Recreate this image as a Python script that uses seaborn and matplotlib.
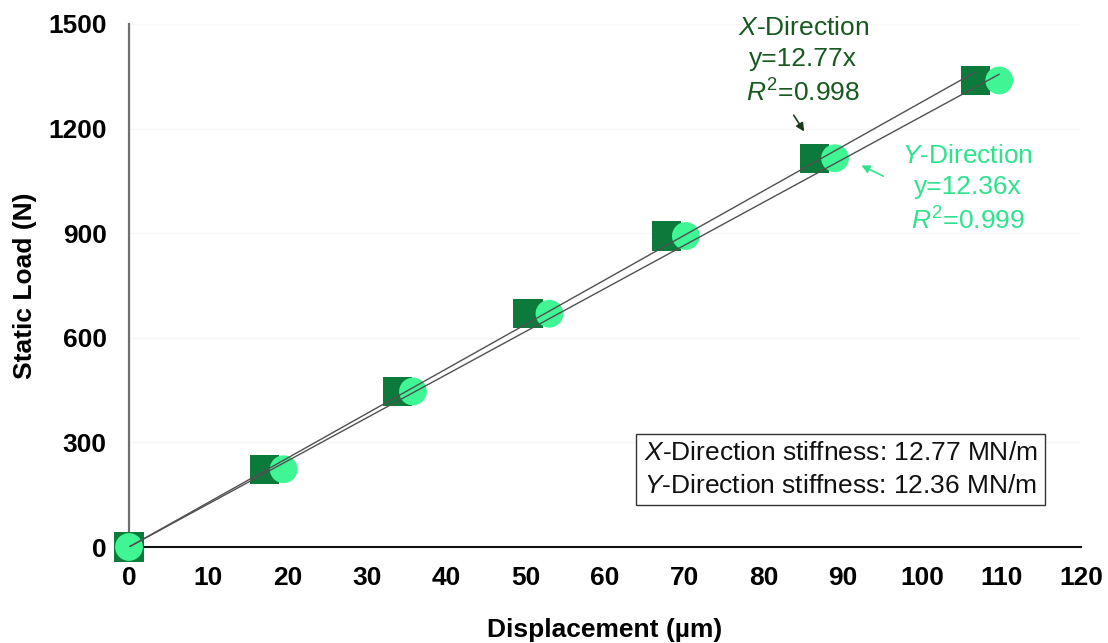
import numpy as np
import pandas as pd
import matplotlib
matplotlib.use("Agg")
import matplotlib.pyplot as plt
import seaborn as sns

# Measured static load vs. displacement in two directions
load_n = [0, 223, 446, 669, 892, 1115, 1338]
disp_x_um = [0, 17.1, 33.9, 50.3, 67.8, 86.4, 106.7]
disp_y_um = [0, 19.5, 35.8, 53.0, 70.2, 89.0, 109.7]

# Linear fits through the origin (N/um == MN/m)
slope_x = 12.77
slope_y = 12.36
r2_x = 0.998
r2_y = 0.999

x_ticks = list(range(0, 121, 10))
y_ticks = [0, 300, 600, 900, 1200, 1500]

col_x = "#0b7a3b"
col_y = "#3ff594"
txt_x = "#17591f"
txt_y = "#2fe38e"

sns.set_theme(style="white")
plt.rcParams["font.family"] = ["Liberation Sans", "DejaVu Sans"]
plt.rcParams["mathtext.fontset"] = "custom"
plt.rcParams["mathtext.rm"] = "Liberation Sans"
plt.rcParams["mathtext.it"] = "Liberation Sans:italic"

df = pd.DataFrame({
    "Displacement": disp_x_um + disp_y_um,
    "Load": load_n + load_n,
    "Direction": ["X"] * len(load_n) + ["Y"] * len(load_n),
})

fig = plt.figure(figsize=(11.08, 6.43), dpi=100)
ax = fig.add_axes([0.1164, 0.1493, 0.8592, 0.8134])

ax.yaxis.grid(True, color="#f7f7f7", lw=1)
ax.set_axisbelow(True)

sns.scatterplot(data=df, x="Displacement", y="Load", hue="Direction",
                style="Direction", markers={"X": "s", "Y": "o"},
                palette={"X": col_x, "Y": col_y},
                size="Direction", sizes={"X": 441, "Y": 400},
                linewidth=0, legend=False, ax=ax, clip_on=False, zorder=3)

# Fitted trend lines
fit = pd.DataFrame({
    "Displacement": [0, max(disp_x_um), 0, max(disp_y_um)],
    "Load": [0, slope_x * max(disp_x_um), 0, slope_y * max(disp_y_um)],
    "Fit": ["X", "X", "Y", "Y"],
})
sns.lineplot(data=fit, x="Displacement", y="Load", units="Fit", estimator=None,
             color="#505050", lw=1.0, ax=ax, zorder=4, legend=False)

ax.set_xlim(0, 120)
ax.set_ylim(0, 1500)
ax.set_xticks(x_ticks)
ax.set_yticks(y_ticks)
ax.tick_params(axis="both", length=0, labelsize=19, labelcolor="black")
ax.tick_params(axis="y", pad=16)
ax.tick_params(axis="x", pad=14)
for lab in ax.get_xticklabels() + ax.get_yticklabels():
    lab.set_fontweight("bold")

ax.set_xlabel("Displacement (µm)", fontsize=19, fontweight="bold",
              color="black", labelpad=20)
ax.set_ylabel("Static Load (N)", fontsize=19, fontweight="bold",
              color="black", labelpad=8)

for s in ["top", "right"]:
    ax.spines[s].set_visible(False)
ax.spines["left"].set_color("#6e6e6e")
ax.spines["left"].set_linewidth(1.6)
ax.spines["bottom"].set_color("#111111")
ax.spines["bottom"].set_linewidth(1.5)

# Fit annotations
ax.text(85.0, 1392, r"$\mathit{X}$-Direction" + "\n" + f"y={slope_x:.2f}x" + "\n"
        + r"$\mathit{R}^{\mathrm{2}}$" + f"={r2_x:.3f}",
        color=txt_x, fontsize=19, ha="center", va="center", linespacing=1.38)
ax.annotate("", xy=(85.3, 1185), xytext=(83.6, 1245),
            arrowprops=dict(arrowstyle="-|>", color="#1c3a1c", lw=1.2,
                            mutation_scale=12))

ax.text(105.7, 1025, r"$\mathit{Y}$-Direction" + "\n" + f"y={slope_y:.2f}x" + "\n"
        + r"$\mathit{R}^{\mathrm{2}}$" + f"={r2_y:.3f}",
        color=txt_y, fontsize=19, ha="center", va="center", linespacing=1.38)
ax.annotate("", xy=(92.0, 1098), xytext=(95.4, 1060),
            arrowprops=dict(arrowstyle="-|>", color=txt_y, lw=1.2,
                            mutation_scale=12))

ax.text(89.7, 222,
        r"$\mathit{X}$-Direction stiffness: " + f"{slope_x:.2f} MN/m" + "\n"
        + r"$\mathit{Y}$-Direction stiffness: " + f"{slope_y:.2f} MN/m",
        fontsize=19, color="#111111", ha="center", va="center", linespacing=1.45,
        bbox=dict(boxstyle="square,pad=0.28", fc="white", ec="#333333", lw=1.0),
        zorder=6)

fig.savefig("out.png", dpi=100)
